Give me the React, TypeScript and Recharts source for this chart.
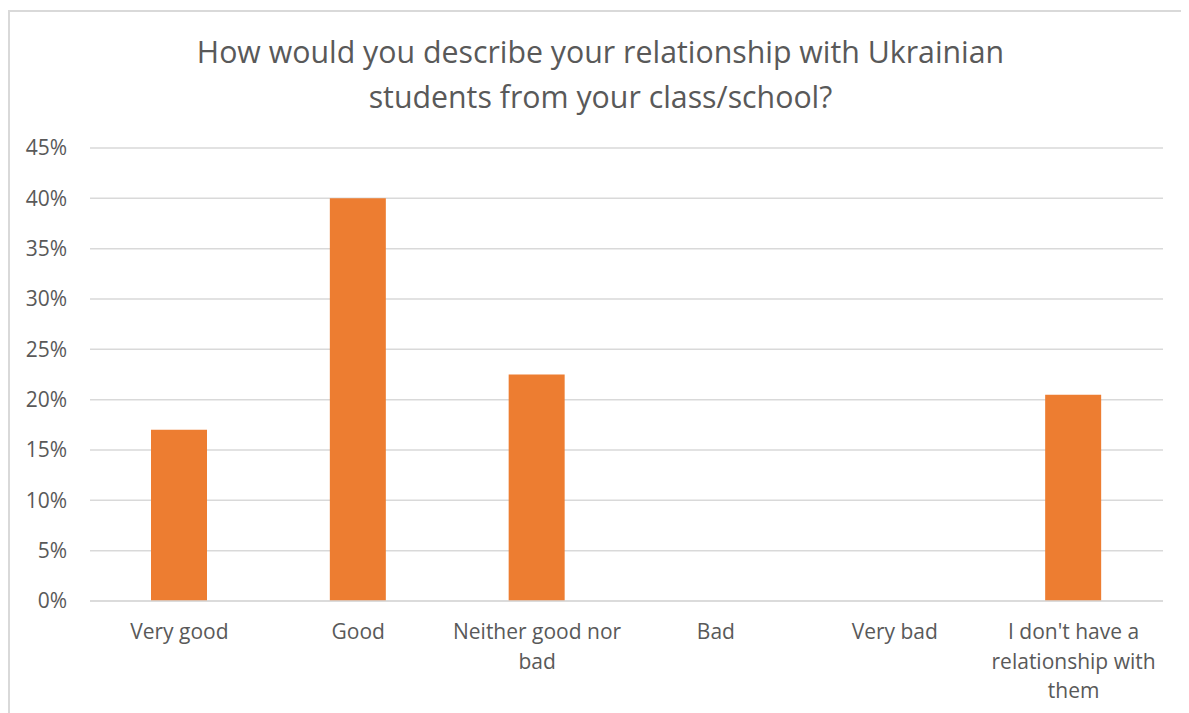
import React from "react";
import { BarChart, Bar, XAxis, YAxis, CartesianGrid } from "recharts";

const categories = ["Very good", "Good", "Neither good nor bad", "Bad", "Very bad", "I don't have a relationship with them"];
const categoryLines = [["Very good"], ["Good"], ["Neither good nor", "bad"], ["Bad"], ["Very bad"], ["I don't have a", "relationship with", "them"]];
const shares = [17, 40, 22.5, 0, 0, 20.5];
const yTicks = [0, 5, 10, 15, 20, 25, 30, 35, 40, 45];
const titleLines = ["How would you describe your relationship with Ukrainian", "students from your class/school?"];

const data = categories.map((c, i) => ({ name: c, idx: i, value: shares[i] }));

const FONT = "'Open Sans', sans-serif";
const TEXT = "#595959";

const CatTick = (props: any) => {
  const { x, y, payload } = props;
  const lines = categoryLines[payload.index] || [String(payload.value)];
  return (
    <g>
      {lines.map((l, i) => (
        <text key={i} x={x} y={y + 22 + i * 29.5} textAnchor="middle" dominantBaseline="central" fill={TEXT} fontSize={21} fontFamily={FONT}>
          {l}
        </text>
      ))}
    </g>
  );
};

export default function App() {
  return (
    <div style={{ position: "relative", width: 1181, height: 705, overflow: "hidden", background: "#fff" }}>
      <div style={{ position: "absolute", left: 0, top: 2, width: 1300, height: 900, border: "2px solid #d9d9d9", boxSizing: "border-box" }} />
      <div style={{ position: "absolute", left: 0, top: 21, width: 1181, textAlign: "center", fontFamily: FONT, fontSize: 30.3, color: TEXT, lineHeight: "45px" }}>
        {titleLines.map((t, i) => (
          <div key={i} style={{ paddingLeft: 4 }}>{t}</div>
        ))}
      </div>
      <div style={{ position: "absolute", left: 0, top: 0 }}>
        <BarChart width={1181} height={705} data={data} margin={{ top: 140, right: 26, bottom: 12, left: 0 }}>
          <CartesianGrid vertical={false} stroke="#d9d9d9" strokeWidth={1.5} />
          <XAxis dataKey="name" axisLine={{ stroke: "#d9d9d9", strokeWidth: 1.5 }} tickLine={false} height={100} interval={0} tick={<CatTick />} />
          <YAxis width={82} domain={[0, 45]} ticks={yTicks} axisLine={false} tickLine={false} tickSize={0} tickMargin={23}
            tickFormatter={(v: number) => `${v}%`} tick={{ fill: TEXT, fontSize: 21, fontFamily: FONT }} />
          <Bar dataKey="value" fill="#ED7D31" barSize={56} isAnimationActive={false} />
        </BarChart>
      </div>
    </div>
  );
}
